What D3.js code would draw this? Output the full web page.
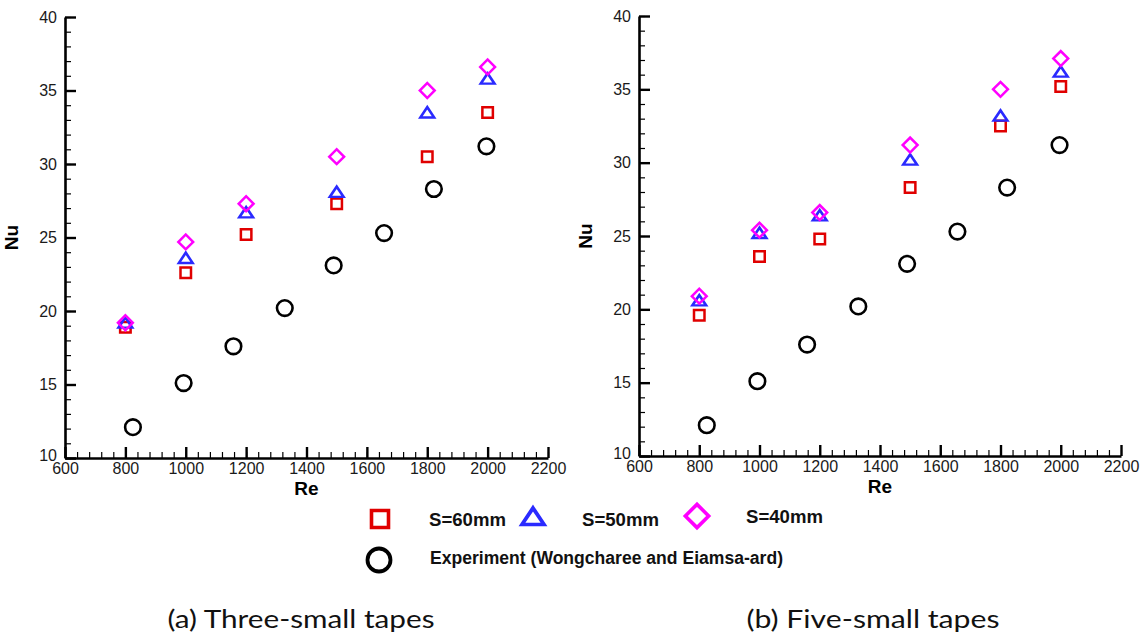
<!DOCTYPE html>
<html>
<head>
<meta charset="utf-8">
<script src="https://cdn.jsdelivr.net/npm/d3@7"></script>
<style>
  body { margin: 0; background: #fff; }
  svg { display: block; }
</style>
</head>
<body>
<svg id="chart" width="1143" height="636"></svg>
<script>
// Reynolds numbers of the simulated cases
const reSim = [800, 1000, 1200, 1500, 1800, 2000];

// Three-small tapes
const threeS60 = [18.9, 22.6, 25.2, 27.3, 30.5, 33.5];
const threeS50 = [19.1, 23.5, 26.6, 28.0, 33.4, 35.7];
const threeS40 = [19.2, 24.7, 27.3, 30.5, 35.0, 36.6];

// Five-small tapes
const fiveS60 = [19.6, 23.6, 24.8, 28.3, 32.5, 35.2];
const fiveS50 = [20.5, 25.1, 26.3, 30.1, 33.1, 36.1];
const fiveS40 = [20.9, 25.4, 26.6, 31.2, 35.0, 37.1];

// Experiment (Wongcharee and Eiamsa-ard)
const reExp = [825, 993, 1158, 1328, 1490, 1657, 1822, 1996];
const nuExp = [12.1, 15.1, 17.6, 20.2, 23.1, 25.3, 28.3, 31.2];

const xTicks = [600, 800, 1000, 1200, 1400, 1600, 1800, 2000, 2200];
const yTicks = [10, 15, 20, 25, 30, 35, 40];
const captions = ["(a) Three-small tapes", "(b) Five-small tapes"];
const legendLabels = ["S=60mm", "S=50mm", "S=40mm", "Experiment (Wongcharee and Eiamsa-ard)"];

const colors = { s60: "#e00000", s50: "#2a2aff", s40: "#ff00ff", exp: "#000000" };

const svg = d3.select("#chart");
const axisFont = "'Liberation Sans', Arial, sans-serif";

const panels = [
  { left: 65, right: 548, top: 17, bottom: 458, s60: threeS60, s50: threeS50, s40: threeS40, caption: captions[0], capX: 301, capW: 267 },
  { left: 639, right: 1121, top: 16, bottom: 456, s60: fiveS60, s50: fiveS50, s40: fiveS40, caption: captions[1], capX: 873, capW: 253 }
];

// marker generators
const squareSym = d3.symbol().type(d3.symbolSquare);
const triSym = d3.symbol().type(d3.symbolTriangle);

function drawSquare(g, x, y, side, color, sw) {
  g.append("path").attr("d", squareSym.size(side * side)())
    .attr("transform", `translate(${x},${y})`)
    .attr("fill", "none").attr("stroke", color).attr("stroke-width", sw);
}
function drawTriangle(g, x, y, side, color, sw) {
  g.append("path").attr("d", triSym.size(Math.sqrt(3) / 4 * side * side)())
    .attr("transform", `translate(${x},${y}) scale(1.1,0.95)`)
    .attr("fill", "none").attr("stroke", color).attr("stroke-width", sw)
    .attr("stroke-linejoin", "miter");
}
function drawDiamond(g, x, y, side, color, sw) {
  g.append("path").attr("d", squareSym.size(side * side)())
    .attr("transform", `translate(${x},${y}) rotate(45)`)
    .attr("fill", "none").attr("stroke", color).attr("stroke-width", sw);
}
function drawCircle(g, x, y, r, color, sw) {
  g.append("circle").attr("cx", x).attr("cy", y).attr("r", r)
    .attr("fill", "none").attr("stroke", color).attr("stroke-width", sw);
}

panels.forEach(p => {
  const x = d3.scaleLinear().domain([600, 2200]).range([p.left, p.right]);
  const y = d3.scaleLinear().domain([10, 40]).range([p.bottom, p.top]);
  const g = svg.append("g");

  // minor ticks
  g.append("g").attr("transform", `translate(0,${p.bottom})`)
    .call(d3.axisBottom(x).tickValues(d3.range(600, 2201, 40)).tickSize(-6).tickFormat(""))
    .call(a => a.select(".domain").remove())
    .call(a => a.selectAll("line").attr("stroke", "#000").attr("stroke-width", 1.2));
  g.append("g").attr("transform", `translate(${p.left},0)`)
    .call(d3.axisLeft(y).tickValues(d3.range(10, 40.01, 1)).tickSize(-6).tickFormat(""))
    .call(a => a.select(".domain").remove())
    .call(a => a.selectAll("line").attr("stroke", "#000").attr("stroke-width", 1.2));

  // major ticks and labels
  g.append("g").attr("transform", `translate(0,${p.bottom})`)
    .call(d3.axisBottom(x).tickValues(xTicks).tickFormat(d3.format("d")).tickSize(-11).tickPadding(5).tickSizeOuter(0))
    .call(a => a.select(".domain").attr("stroke", "#000").attr("stroke-width", 2.6))
    .call(a => a.selectAll("line").attr("stroke", "#000").attr("stroke-width", 2.4))
    .call(a => a.selectAll("text").attr("font-family", axisFont).attr("font-size", 16).attr("fill", "#1a1a1a"));
  g.append("g").attr("transform", `translate(${p.left},0)`)
    .call(d3.axisLeft(y).tickValues(yTicks).tickFormat(d3.format("d")).tickSize(-11).tickPadding(8).tickSizeOuter(0))
    .call(a => a.select(".domain").attr("stroke", "#000").attr("stroke-width", 2.6))
    .call(a => a.selectAll("line").attr("stroke", "#000").attr("stroke-width", 2.4))
    .call(a => a.selectAll("text").attr("font-family", axisFont).attr("font-size", 16).attr("fill", "#1a1a1a"))
    .call(a => a.selectAll(".tick").filter(d => d === 10).select("text").attr("dy", "0.18em"));

  // axis titles
  g.append("text").attr("x", x(1400)).attr("y", p.bottom + 37)
    .attr("text-anchor", "middle").attr("font-family", axisFont).attr("font-weight", "bold")
    .attr("font-size", 19).text("Re");
  g.append("text").attr("transform", `translate(${p.left - 47},${y(25)}) rotate(-90)`)
    .attr("text-anchor", "middle").attr("font-family", axisFont).attr("font-weight", "bold")
    .attr("font-size", 19).text("Nu");

  // experiment
  reExp.forEach((re, i) => drawCircle(g, x(re), y(nuExp[i]), 7.8, colors.exp, 2.6));
  // simulations
  reSim.forEach((re, i) => {
    drawSquare(g, x(re), y(p.s60[i]), 10.5, colors.s60, 2.5);
    drawTriangle(g, x(re), y(p.s50[i]), 12.5, colors.s50, 2.5);
    drawDiamond(g, x(re), y(p.s40[i]), 10.5, colors.s40, 2.5);
  });

  // caption
  svg.append("text").attr("x", p.capX - p.capW / 2).attr("y", 628)
    .attr("font-family", "Lato, 'Open Sans', sans-serif")
    .attr("font-size", 25).attr("fill", "#111")
    .attr("textLength", p.capW).attr("lengthAdjust", "spacingAndGlyphs").text(p.caption);
});

// legend
const lg = svg.append("g");
drawSquare(lg, 380, 519, 17, colors.s60, 3.6);
drawTriangle(lg, 533, 519, 20, colors.s50, 3.6);
drawDiamond(lg, 697, 516, 16.5, colors.s40, 3.6);
drawCircle(lg, 379, 560, 11.5, colors.exp, 3.8);
[[429, 526, legendLabels[0], 77], [582, 526, legendLabels[1], 77], [746, 523, legendLabels[2], 77], [430, 564, legendLabels[3], 353]]
  .forEach(([tx, ty, t, w]) => {
    lg.append("text").attr("x", tx).attr("y", ty)
      .attr("font-family", axisFont).attr("font-weight", "bold")
      .attr("font-size", 18).attr("fill", "#111")
      .attr("textLength", w).attr("lengthAdjust", "spacingAndGlyphs").text(t);
  });
</script>
</body>
</html>
